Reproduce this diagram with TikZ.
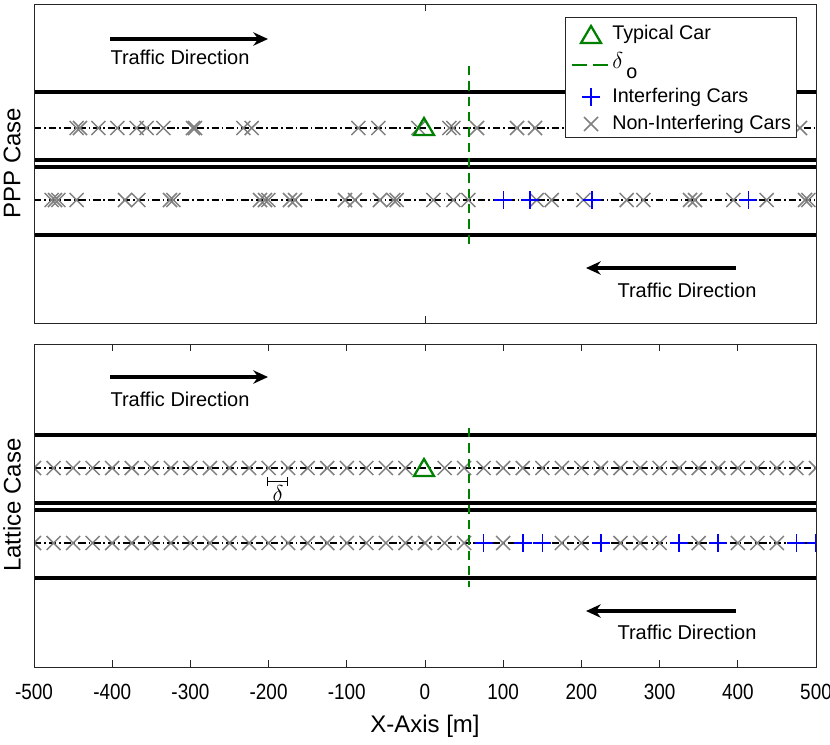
\documentclass[tikz,border=0pt]{standalone}
\usepackage{fontspec}
\setmainfont{Liberation Sans}
\usetikzlibrary{arrows.meta}
\definecolor{mgreen}{rgb}{0,0.5,0}
\definecolor{mgray}{rgb}{0.5,0.5,0.5}
\definecolor{axgray}{rgb}{0.15,0.15,0.15}
\tikzset{
  road/.style={line width=2.4pt, black},
  lane/.style={line width=0.9pt, black, dash pattern=on 5.5pt off 2.2pt on 1.2pt off 2.2pt},
  deltao/.style={line width=1.3pt, mgreen, dash pattern=on 7pt off 4.5pt},
  deltaleg/.style={line width=1.3pt, mgreen, dash pattern=on 11pt off 5pt},
  frame/.style={line width=0.6pt, axgray},
  tickmark/.style={line width=0.5pt, axgray},
  trafarrow/.style={line width=2.5pt, -{Stealth[length=11pt,width=10pt]}},
  trafl/.style={font=\fontsize{15}{18}\selectfont, inner sep=0pt},
  legl/.style={font=\fontsize{14.8}{18}\selectfont, inner sep=0pt, anchor=west},
  tickl/.style={font=\fontsize{16.5}{19}\selectfont, inner sep=0pt, xscale=0.86},
  axl/.style={font=\fontsize{18}{21}\selectfont, inner sep=0pt},
  ncar/.pic={\draw[mgray, line width=1.1pt] (-7,-7) -- (7,7) (-7,7) -- (7,-7);},
  icar/.pic={\draw[blue, line width=1.2pt] (-9,0) -- (9,0) (0,-9) -- (0,9);},
  tcar/.pic={\draw[mgreen, line width=1.7pt, line join=miter] (0,-9) -- (10,8) -- (-10,8) -- cycle;},
}
\begin{document}
\begin{tikzpicture}[x=0.75pt,y=-0.75pt]
\useasboundingbox (0,0) rectangle (830,744);

% ---------------- top panel (PPP) ----------------
\draw[lane] (34,128) -- (816,128);
\draw[lane] (34,200) -- (816,200);
\draw[road] (34,92) -- (816,92);
\draw[road] (34,160) -- (816,160);
\draw[road] (34,167) -- (816,167);
\draw[road] (34,235) -- (816,235);
\begin{scope}
\clip (34,4) rectangle (816,323);
\foreach \p in {76.7,80,98.3,117.3,136.7,146.7,163.3,193,195,243.3,251.7,358.3,378.3,418.3,449.3,453.3,477,517,535,800}
  \pic at (\p,128) {ncar};
\foreach \p in {51.7,55,58.3,76.7,125,138.3,170,173.3,260,265,268.3,290,295,345,355,380,393.3,396.7,433.3,453.3,468.3,536.7,551.7,583.3,626.7,643.3,690,695,733.3,766.7,805,808.3}
  \pic at (\p,200) {ncar};
\foreach \p in {503.3,530,591.7,748.3}
  \pic at (\p,200) {icar};
\end{scope}
\coordinate (dtA) at (469,66);
\coordinate (dtB) at (469,245);
\draw[deltao] (dtA) -- (dtB);
\pic at (424,127) {tcar};
\draw[frame] (34,4) rectangle (816,323);
\draw[tickmark] (425,323) -- (425,316);
\draw[tickmark] (425,4) -- (425,11);

\coordinate (a1s) at (110,39); \coordinate (a1e) at (268,39);
\draw[trafarrow] (a1s) -- (a1e);
\node[trafl] (t1) at (180,57) {Traffic Direction};
\coordinate (a2s) at (736,268); \coordinate (a2e) at (586,268);
\draw[trafarrow] (a2s) -- (a2e);
\node[trafl] (t2) at (687,290) {Traffic Direction};

% legend
\draw[draw=axgray, fill=white, line width=0.5pt] (565,17) rectangle (796,137);
\pic at (591,35) {tcar};
\node[legl] (lg1) at (612,34) {Typical Car};
\coordinate (lgA) at (572,65); \coordinate (lgB) at (609,65);
\draw[deltaleg] (lgA) -- (lgB);
\node[font=\fontsize{17}{20}\selectfont, inner sep=0pt, anchor=base west] (lg2) at (612,68) {$\delta$};
\node[legl, anchor=base west] (lg2o) at (626,78) {o};
\pic at (591,97) {icar};
\node[legl] (lg3) at (612,97) {Interfering Cars};
\pic at (591,124) {ncar};
\node[legl] (lg4) at (612,124) {Non-Interfering Cars};

\node[axl, rotate=90] (yl1) at (12,163) {PPP Case};

% ---------------- bottom panel (Lattice) ----------------
\draw[lane] (34,468) -- (816,468);
\draw[lane] (34,543) -- (816,543);
\draw[road] (34,435) -- (816,435);
\draw[road] (34,503) -- (816,503);
\draw[road] (34,510) -- (816,510);
\draw[road] (34,578) -- (816,578);
\begin{scope}
\clip (34,344) rectangle (816,667);
\foreach \m in {-500,-475,...,-25}
  \pic at ({425+0.782*\m},468) {ncar};
\foreach \m in {25,50,...,500}
  \pic at ({425+0.782*\m},468) {ncar};
\foreach \m in {-500,-475,...,50}
  \pic at ({425+0.782*\m},543) {ncar};
\foreach \m in {100,175,200,250,275,300,350,400,425,450}
  \pic at ({425+0.782*\m},543) {ncar};
\foreach \m in {75,125,150,225,325,375,475,500}
  \pic at ({425+0.782*\m},543) {icar};
\end{scope}
\coordinate (dbA) at (469,428);
\coordinate (dbB) at (469,587);
\draw[deltao] (dbA) -- (dbB);
\pic at (424,468) {tcar};

% delta spacing bracket
\coordinate (brA) at (267,481); \coordinate (brB) at (287,481);
\draw[line width=0.6pt] (brA) -- (brB);
\draw[line width=0.6pt] (267,477) -- (267,486);
\draw[line width=0.6pt] (287,477) -- (287,486);
\node[font=\fontsize{17}{19}\selectfont, inner sep=0pt] (dl) at (278,493) {$\delta$};

\draw[frame] (34,344) rectangle (816,667);
\foreach \v in {-500,-400,...,500} {
  \draw[tickmark] ({425+0.782*\v},667) -- ({425+0.782*\v},660);
  \draw[tickmark] ({425+0.782*\v},344) -- ({425+0.782*\v},351);
  \node[tickl] (tk\v) at ({425+0.782*\v},692) {\v};
}

\coordinate (a3s) at (110,377); \coordinate (a3e) at (268,377);
\draw[trafarrow] (a3s) -- (a3e);
\node[trafl] (t3) at (180,399) {Traffic Direction};
\coordinate (a4s) at (736,611); \coordinate (a4e) at (586,611);
\draw[trafarrow] (a4s) -- (a4e);
\node[trafl] (t4) at (687,632) {Traffic Direction};

\node[axl, rotate=90] (yl2) at (12,505) {Lattice Case};
\node[axl] (xl) at (425,726) {X-Axis [m]};
\end{tikzpicture}
\end{document}
